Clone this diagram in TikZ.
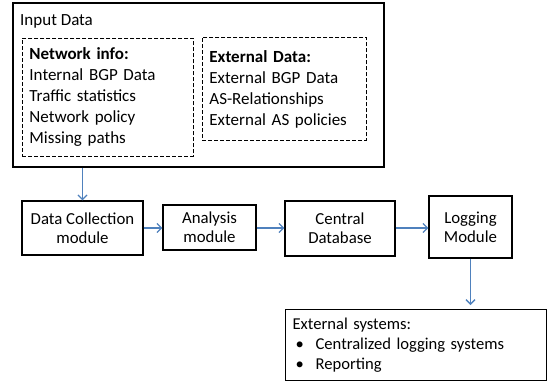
\documentclass[tikz,border=0pt]{standalone}
\usepackage{fontspec}
\setmainfont{Carlito}
\usetikzlibrary{arrows.meta}
\definecolor{arrowblue}{RGB}{79,129,189}

\tikzset{
  modbox/.style={draw,line width=1.2pt,align=center,inner sep=0pt,font=\fontsize{16.8}{19}\selectfont},
  dashbox/.style={draw,line width=0.9pt,dash pattern=on 4pt off 2pt,align=left,anchor=north west,
    inner xsep=7pt,inner ysep=0pt,font=\fontsize{17}{21}\selectfont},
  flow/.style={arrowblue,line width=1.3pt,-{Straight Barb[length=4.5pt,width=9pt]}}
}

\begin{document}
\begin{tikzpicture}[x=1pt,y=-1pt]
        \useasboundingbox (0,0) rectangle (551,384);
        % input data with its two groups
        \node (input) [draw,line width=1.5pt,minimum width=371pt,minimum height=164pt] at (198.5,85) {};
        \node (inputlabel) [anchor=base west,inner sep=0pt,font=\fontsize{17}{21}\selectfont] at (20,25) {Input Data};
        \node (netinfo) [dashbox,text width=157pt,minimum height=118pt] at (22,38)
          {\textbf{Network info:}\\Internal BGP Data\\Traffic statistics\\Network policy\\Missing paths};
        \node (extdata) [dashbox,text width=150pt,minimum height=103pt] at (202,37)
          {\textbf{External Data:}\\External BGP Data\\AS-Relationships\\External AS policies};
        % modules
        \node (collect) [modbox,minimum width=121pt,minimum height=54pt] at (82.5,228) {Data Collection\\module};
        \node (analysis) [modbox,minimum width=93pt,minimum height=45pt] at (209.5,227.5) {Analysis\\module};
        \node (central) [modbox,minimum width=110pt,minimum height=55pt] at (340,228.5) {Central\\Database};
        \node (logging) [modbox,minimum width=83pt,minimum height=62pt] at (470.5,227) {Logging\\Module};
        \node (extsys) [draw,line width=1.2pt,anchor=north west,align=left,text width=247pt,inner xsep=7pt,
          inner ysep=0pt,minimum height=71pt,font=\fontsize{16.6}{20}\selectfont] at (285,309)
          {External systems:\\\hspace*{3pt}\makebox[20pt][l]{•}Centralized logging systems\\\hspace*{3pt}\makebox[20pt][l]{•}Reporting};
        % connectors
        \draw[flow] (collect.north |- input.south) -- (collect.north);
        \draw[flow] (collect.east |- 0,228) -- (analysis.west |- 0,228);
        \draw[flow] (analysis.east |- 0,228) -- (central.west |- 0,228);
        \draw[flow] (central.east |- 0,228) -- (logging.west |- 0,228);
        \draw[flow,shorten >=4pt] (logging.south) -- (extsys.north -| logging.south);
\end{tikzpicture}
\end{document}
